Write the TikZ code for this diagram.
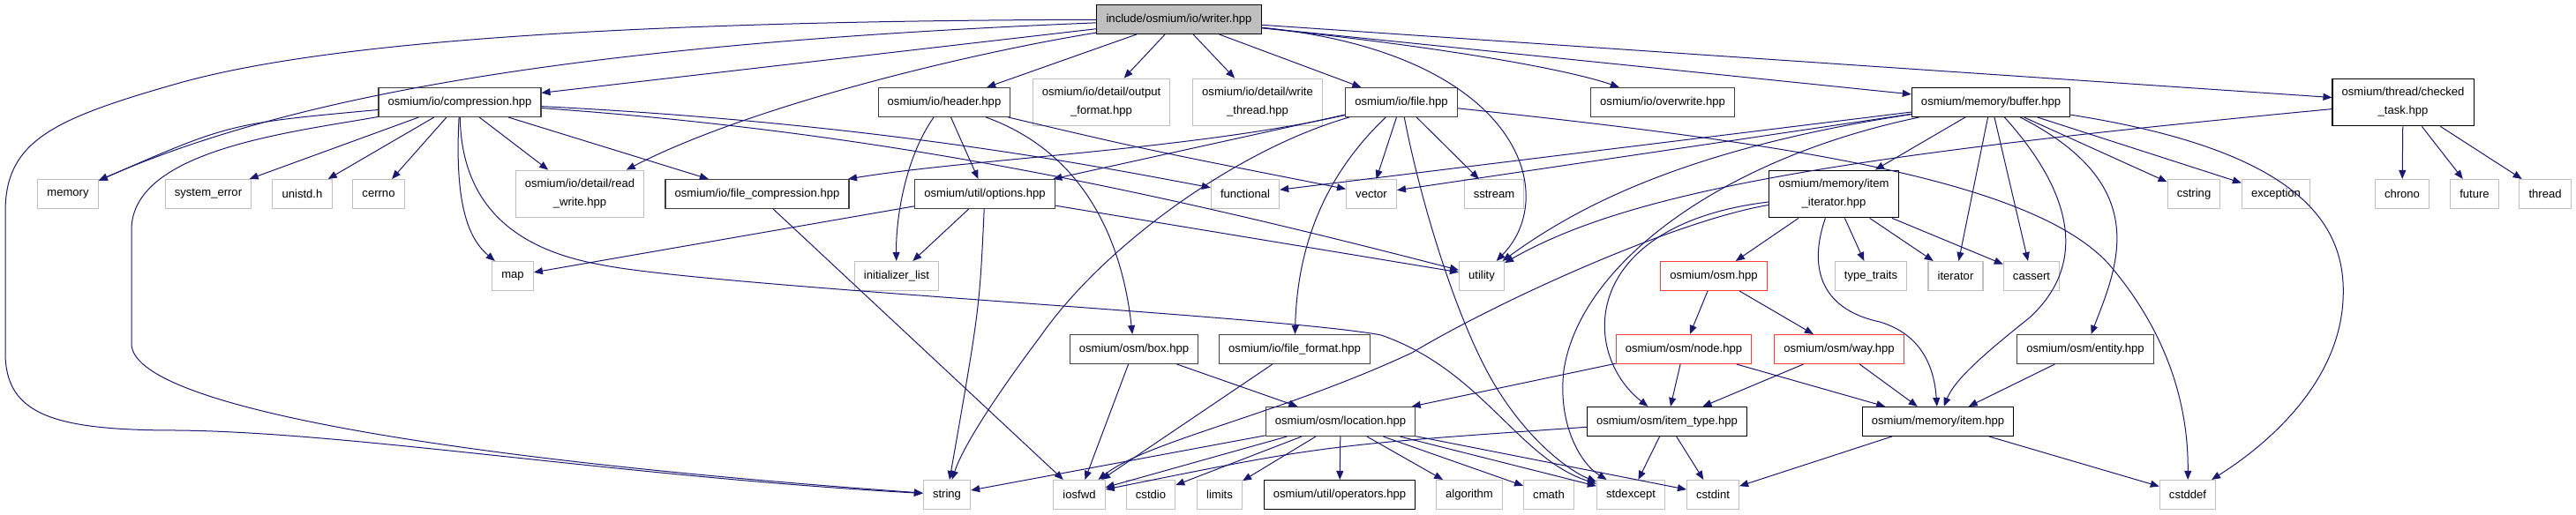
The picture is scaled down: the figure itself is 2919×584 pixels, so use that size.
\documentclass[tikz,border=0pt]{standalone}
\usepackage{fontspec}
\setmainfont{Liberation Sans}
\usetikzlibrary{arrows.meta}
\definecolor{edgecolor}{RGB}{25, 25, 112}
\definecolor{syscolor}{RGB}{191, 191, 191}
\definecolor{doccolor}{RGB}{64, 64, 64}
\definecolor{trunccolor}{RGB}{255, 60, 60}

\begin{document}
\begin{tikzpicture}[
    x=0.75pt, y=-0.75pt,
    hdrbox/.style={rectangle, draw, fill=white, line width=0.8pt, minimum height=24.75pt, inner xsep=8pt, inner ysep=7.7pt, align=center, font=\fontsize{9.8}{15.75}\selectfont},
    rootfile/.style={hdrbox, draw=black, fill=syscolor},
    docfile/.style={hdrbox, draw=doccolor},
    linkfile/.style={hdrbox, draw=black},
    sysfile/.style={hdrbox, draw=syscolor},
    truncfile/.style={hdrbox, draw=trunccolor},
    dep/.style={draw=edgecolor, line width=0.75pt, -{Stealth[inset=0pt, length=7.5pt, width=6pt]}}
]
\fill[white] (0,0) rectangle (2919,584);
\useasboundingbox (0,0) rectangle (2919,584);

% Root file
\node[rootfile] (writer) at (1336,22) {include/osmium/io/writer.hpp};

% Direct includes
\node[docfile] (compress) at (521,116) {osmium/io/compression.hpp};
\node[docfile] (header) at (1070,116) {osmium/io/header.hpp};
\node[sysfile] (outfmt) at (1248,116) {osmium/io/detail/output\\\_format.hpp};
\node[sysfile] (wrthread) at (1425,116) {osmium/io/detail/write\\\_thread.hpp};
\node[docfile] (iofile) at (1588,116) {osmium/io/file.hpp};
\node[docfile] (overwrite) at (1884,116) {osmium/io/overwrite.hpp};
\node[linkfile] (buffer) at (2256,116) {osmium/memory/buffer.hpp};
\node[linkfile] (checked) at (2723,116) {osmium/thread/checked\\\_task.hpp};

% Third row
\node[sysfile] (memory) at (77,220) {memory};
\node[sysfile] (syserr) at (236,220) {system\_error};
\node[sysfile] (unistd) at (342.5,220) {unistd.h};
\node[sysfile] (cerrno) at (429,220) {cerrno};
\node[sysfile] (rdwrite) at (657,220) {osmium/io/detail/read\\\_write.hpp};
\node[docfile] (fcompress) at (858,220) {osmium/io/file\_compression.hpp};
\node[docfile] (options) at (1116,220) {osmium/util/options.hpp};
\node[sysfile] (functional) at (1411,220) {functional};
\node[sysfile] (vector) at (1554,220) {vector};
\node[sysfile] (sstream) at (1693,220) {sstream};
\node[linkfile] (itemiter) at (2078,220) {osmium/memory/item\\\_iterator.hpp};
\node[sysfile] (cstring) at (2486,220) {cstring};
\node[sysfile] (exception) at (2579,220) {exception};
\node[sysfile] (chrono) at (2722,220) {chrono};
\node[sysfile] (future) at (2804,220) {future};
\node[sysfile] (thread) at (2884,220) {thread};

% Fourth row
\node[sysfile] (map) at (581,313) {map};
\node[sysfile] (initlist) at (1016,313) {initializer\_list};
\node[sysfile] (utility) at (1679,313) {utility};
\node[truncfile] (osm) at (1942,313) {osmium/osm.hpp};
\node[sysfile] (typetraits) at (2120,313) {type\_traits};
\node[sysfile] (iterator) at (2216,313) {iterator};
\node[sysfile] (cassert) at (2302,313) {cassert};

% OSM objects
\node[docfile] (osmbox) at (1285,396) {osmium/osm/box.hpp};
\node[docfile] (fileformat) at (1467,396) {osmium/io/file\_format.hpp};
\node[truncfile] (osmnode) at (1908,396) {osmium/osm/node.hpp};
\node[truncfile] (osmway) at (2084,396) {osmium/osm/way.hpp};
\node[docfile] (entity) at (2363,396) {osmium/osm/entity.hpp};
\node[docfile] (location) at (1519,478) {osmium/osm/location.hpp};
\node[linkfile] (itemtype) at (1889,478) {osmium/osm/item\_type.hpp};
\node[linkfile] (item) at (2196,478) {osmium/memory/item.hpp};

% Bottom row
\node[sysfile] (string) at (1073,561) {string};
\node[sysfile] (iosfwd) at (1223,561) {iosfwd};
\node[sysfile] (cstdio) at (1304,561) {cstdio};
\node[sysfile] (limits) at (1382,561) {limits};
\node[linkfile] (operators) at (1518,561) {osmium/util/operators.hpp};
\node[sysfile] (algorithm) at (1665,561) {algorithm};
\node[sysfile] (cmath) at (1755,561) {cmath};
\node[sysfile] (stdexcept) at (1848,561) {stdexcept};
\node[sysfile] (cstdint) at (1941,561) {cstdint};
\node[sysfile] (cstddef) at (2479,561) {cstddef};

% writer.hpp
\draw[dep] (writer) .. controls (600,24) and (330,58) .. (200,95) .. controls (60,135) and (6,160) .. (6,240) -- (6,400) .. controls (6,470) and (60,488) .. (200,488) .. controls (400,490) and (700,540) .. (string);
\draw[dep] (writer) .. controls (700,48) and (350,100) .. (memory);
\draw[dep] (writer) -- (compress);
\draw[dep] (writer) .. controls (1100,60) and (850,120) .. (rdwrite);
\draw[dep] (writer) -- (header);
\draw[dep] (writer) -- (outfmt);
\draw[dep] (writer) -- (wrthread);
\draw[dep] (writer) -- (iofile);
\draw[dep] (writer) .. controls (1720,60) and (1770,220) .. (utility);
\draw[dep] (writer) .. controls (1650,55) and (1780,80) .. (overwrite);
\draw[dep] (writer) -- (buffer);
\draw[dep] (writer) -- (checked);

% compression.hpp
\draw[dep] (compress) .. controls (260,140) .. (memory);
\draw[dep] (compress) .. controls (330,150) and (150,170) .. (149,260) -- (149,390) .. controls (150,460) and (500,520) .. (string);
\draw[dep] (compress) -- (syserr);
\draw[dep] (compress) -- (unistd);
\draw[dep] (compress) -- (cerrno);
\draw[dep] (compress) .. controls (515,230) and (530,270) .. (map);
\draw[dep] (compress) .. controls (523,230) and (580,282) .. (680,300) .. controls (800,325) and (1450,358) .. (1565,380) .. controls (1680,420) and (1720,520) .. (stdexcept);
\draw[dep] (compress) -- (rdwrite);
\draw[dep] (compress) -- (fcompress);
\draw[dep] (compress) .. controls (1000,140) and (1250,190) .. (functional);
\draw[dep] (compress) .. controls (1000,150) and (1300,215) .. (utility);

% header.hpp
\draw[dep] (header) .. controls (1025,180) and (1015,250) .. (initlist);
\draw[dep] (header) -- (options);
\draw[dep] (header) .. controls (1220,170) and (1270,260) .. (osmbox);
\draw[dep] (header) .. controls (1300,170) .. (vector);

% file.hpp
\draw[dep] (iofile) -- (options);
\draw[dep] (iofile) .. controls (1350,170) and (1100,180) .. (fcompress);
\draw[dep] (iofile) .. controls (1400,170) and (1250,280) .. (1180,380) .. controls (1120,460) and (1090,510) .. (string);
\draw[dep] (iofile) .. controls (1500,200) and (1470,280) .. (fileformat);
\draw[dep] (iofile) -- (vector);
\draw[dep] (iofile) .. controls (1610,230) and (1650,360) .. (1690,430) .. controls (1730,500) and (1780,535) .. (stdexcept);
\draw[dep] (iofile) -- (sstream);
\draw[dep] (iofile) .. controls (2000,160) and (2300,200) .. (2390,300) .. controls (2450,370) and (2480,450) .. (cstddef);

% file_compression.hpp, options.hpp
\draw[dep] (fcompress) -- (iosfwd);
\draw[dep] (options) -- (map);
\draw[dep] (options) -- (initlist);
\draw[dep] (options) .. controls (1110,350) .. (string);
\draw[dep] (options) -- (utility);

% buffer.hpp
\draw[dep] (buffer) -- (itemiter);
\draw[dep] (buffer) -- (iterator);
\draw[dep] (buffer) -- (cassert);
\draw[dep] (buffer) .. controls (2350,220) and (2365,300) .. (2300,360) .. controls (2250,400) and (2215,430) .. (item);
\draw[dep] (buffer) .. controls (2440,210) and (2400,300) .. (entity);
\draw[dep] (buffer) -- (cstring);
\draw[dep] (buffer) -- (exception);
\draw[dep] (buffer) .. controls (2600,170) and (2660,250) .. (2655,340) .. controls (2650,440) and (2560,510) .. (cstddef);
\draw[dep] (buffer) -- (functional);
\draw[dep] (buffer) -- (vector);
\draw[dep] (buffer) .. controls (1900,170) and (1780,240) .. (utility);
\draw[dep] (buffer) .. controls (1950,180) and (1790,300) .. (1772,420) .. controls (1765,480) and (1790,525) .. (stdexcept);

% checked_task.hpp
\draw[dep] (checked) -- (chrono);
\draw[dep] (checked) -- (future);
\draw[dep] (checked) -- (thread);
\draw[dep] (checked) .. controls (2100,175) and (1850,215) .. (utility);

% item_iterator.hpp
\draw[dep] (itemiter) -- (osm);
\draw[dep] (itemiter) .. controls (2050,300) and (2060,350) .. (2130,365) .. controls (2180,380) and (2192,420) .. (item);
\draw[dep] (itemiter) -- (typetraits);
\draw[dep] (itemiter) -- (iterator);
\draw[dep] (itemiter) -- (cassert);
\draw[dep] (itemiter) .. controls (1790,255) and (1790,400) .. (itemtype);
\draw[dep] (itemiter) .. controls (1900,250) and (1700,340) .. (1600,400) .. controls (1450,470) and (1300,500) .. (iosfwd);

% osm objects
\draw[dep] (osm) -- (osmnode);
\draw[dep] (osm) -- (osmway);
\draw[dep] (osmnode) -- (location);
\draw[dep] (osmnode) -- (itemtype);
\draw[dep] (osmnode) -- (item);
\draw[dep] (osmway) -- (itemtype);
\draw[dep] (osmway) -- (item);
\draw[dep] (entity) -- (item);
\draw[dep] (osmbox) -- (iosfwd);
\draw[dep] (osmbox) -- (location);
\draw[dep] (fileformat) -- (iosfwd);

% location.hpp
\draw[dep] (location) -- (string);
\draw[dep] (location) -- (iosfwd);
\draw[dep] (location) -- (cstdio);
\draw[dep] (location) -- (limits);
\draw[dep] (location) -- (operators);
\draw[dep] (location) -- (algorithm);
\draw[dep] (location) -- (cmath);
\draw[dep] (location) -- (stdexcept);
\draw[dep] (location) -- (cstdint);

% item_type.hpp, item.hpp
\draw[dep] (itemtype) .. controls (1500,505) .. (iosfwd);
\draw[dep] (itemtype) -- (stdexcept);
\draw[dep] (itemtype) -- (cstdint);
\draw[dep] (item) -- (cstdint);
\draw[dep] (item) -- (cstddef);

\end{tikzpicture}
\end{document}
